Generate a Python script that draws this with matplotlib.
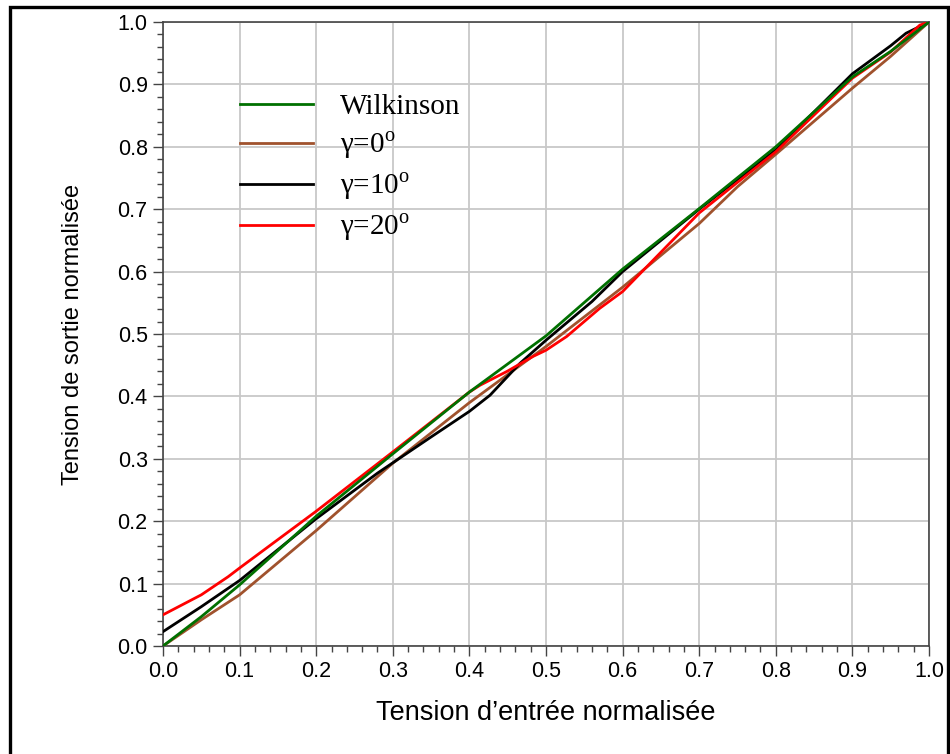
import matplotlib.pyplot as plt
from matplotlib.patches import Rectangle
from matplotlib.ticker import MultipleLocator

plt.rcParams['font.family'] = ['Liberation Sans', 'DejaVu Sans']
plt.rcParams['mathtext.fontset'] = 'custom'
plt.rcParams['mathtext.rm'] = 'Liberation Serif'

# valeurs
x_wilk = [0, 0.05, 0.1, 0.2, 0.3, 0.4, 0.5, 0.6, 0.7, 0.8, 0.9, 0.95, 1.0]
y_wilk = [0, 0.047, 0.098, 0.208, 0.308, 0.407, 0.497, 0.604, 0.701, 0.80, 0.912, 0.953, 1.0]

x_g0 = [0, 0.05, 0.1, 0.2, 0.3, 0.4, 0.5, 0.6, 0.7, 0.75, 0.8, 0.9, 0.95, 1.0]
y_g0 = [0, 0.042, 0.082, 0.185, 0.293, 0.39, 0.48, 0.575, 0.677, 0.736, 0.788, 0.894, 0.945, 1.0]

x_g10 = [0, 0.05, 0.1, 0.2, 0.28, 0.35, 0.4, 0.427, 0.466, 0.5, 0.56, 0.6, 0.7, 0.8, 0.9, 0.95, 0.97, 1.0]
y_g10 = [0.023, 0.063, 0.105, 0.204, 0.277, 0.335, 0.376, 0.402, 0.453, 0.490, 0.552, 0.600, 0.70, 0.795, 0.917, 0.962, 0.982, 1.0]

x_g20 = [0, 0.05, 0.085, 0.1, 0.2, 0.3, 0.4, 0.414, 0.449, 0.483, 0.5, 0.527, 0.57, 0.6, 0.7, 0.8, 0.9, 0.95, 0.988, 1.0]
y_g20 = [0.05, 0.082, 0.111, 0.125, 0.216, 0.311, 0.407, 0.418, 0.44, 0.464, 0.474, 0.496, 0.541, 0.568, 0.694, 0.792, 0.91, 0.952, 0.995, 1.0]

labels = ['Wilkinson', r'γ=0$^{\mathrm{o}}$', r'γ=10$^{\mathrm{o}}$', r'γ=20$^{\mathrm{o}}$']
colors = ['#007000', '#a0522d', 'black', '#ff0000']

fig = plt.figure(figsize=(9.5, 7.54), dpi=100)
ax = fig.add_axes([163 / 950, 1 - 646 / 754, 766 / 950, 624 / 754])

# cadre autour de la figure
fig.patches.append(Rectangle((10 / 950, -0.05), 938 / 950, 1.05 - 7 / 754,
                             transform=fig.transFigure, fill=False,
                             edgecolor='black', linewidth=2.4))

ax.plot(x_wilk, y_wilk, color=colors[0], lw=2.0, label=labels[0], zorder=5)
ax.plot(x_g0, y_g0, color=colors[1], lw=2.0, label=labels[1], zorder=3)
ax.plot(x_g10, y_g10, color=colors[2], lw=2.0, label=labels[2], zorder=4)
ax.plot(x_g20, y_g20, color=colors[3], lw=2.0, label=labels[3], zorder=4)

ax.set_xlim(0, 1)
ax.set_ylim(0, 1)
ax.xaxis.set_major_locator(MultipleLocator(0.1))
ax.yaxis.set_major_locator(MultipleLocator(0.1))
ax.xaxis.set_minor_locator(MultipleLocator(0.02))
ax.yaxis.set_minor_locator(MultipleLocator(0.02))
ax.xaxis.set_major_formatter(lambda v, p: f'{v:.1f}')
ax.yaxis.set_major_formatter(lambda v, p: f'{v:.1f}')
ax.tick_params(which='major', length=7, width=1, color='#444444', labelsize=15.5, pad=4)
ax.tick_params(which='minor', length=4, width=1, color='#444444')
ax.grid(True, which='major', color='#c8c8c8', lw=1.3)
for s in ax.spines.values():
    s.set_color('#444444')
    s.set_linewidth(1.2)

ax.set_xlabel("Tension d’entrée normalisée", fontsize=19.5, labelpad=13)
ax.set_ylabel('Tension de sortie normalisée', fontsize=17, labelpad=24)

leg = ax.legend(loc='upper left', bbox_to_anchor=(0.1, 0.885), frameon=False,
                prop={'family': 'Liberation Serif', 'size': 21},
                handlelength=2.5, handletextpad=0.95, labelspacing=0.33,
                borderpad=0, borderaxespad=0)

plt.savefig('out.png', dpi=100)
